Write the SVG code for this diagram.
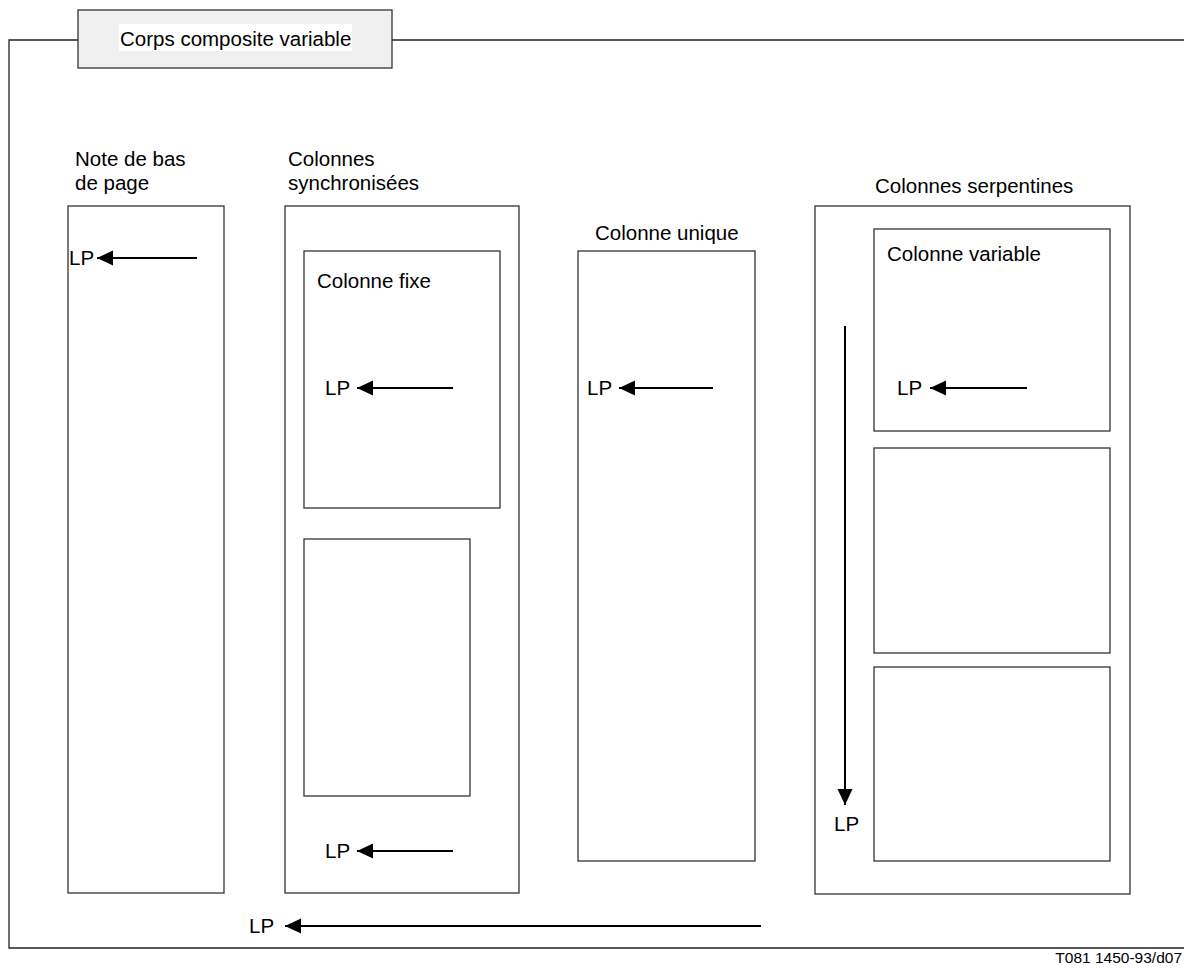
<svg xmlns="http://www.w3.org/2000/svg" width="1184" height="969" viewBox="0 0 1184 969">
  <style>
    .box { fill: #ffffff; stroke: #333333; stroke-width: 1.3; }
    .frame { fill: none; stroke: #222222; stroke-width: 1.3; }
    .title { fill: #f0f0f0; stroke: #333333; stroke-width: 1.3; }
    .lbl { font-family: "Liberation Sans", Arial, sans-serif; font-size: 20.5px; fill: #000000; }
    .small { font-family: "Liberation Sans", Arial, sans-serif; font-size: 15.5px; fill: #000000; }
    .arr { fill: none; stroke: #000000; stroke-width: 2; marker-end: url(#head); }
  </style>
  <defs>
    <marker id="head" markerUnits="userSpaceOnUse" markerWidth="17" markerHeight="17" viewBox="0 0 17 17" refX="16" refY="8.5" orient="auto">
      <path d="M0,1 L16,8.5 L0,16 Z" fill="#000000"/>
    </marker>
  </defs>

  <rect width="1184" height="969" fill="#ffffff"/>

  <!-- outer frame of the composite body -->
  <g id="frame">
    <path class="frame" d="M79,40 H9 V948 H1184"/>
    <path class="frame" d="M392,40 H1184"/>
  </g>

  <g id="title">
    <rect class="title" x="78" y="10" width="314" height="58"/>
    <rect x="119" y="24" width="233" height="27" fill="#ffffff"/>
    <text class="lbl" x="120" y="46">Corps composite variable</text>
  </g>

  <!-- footnote column -->
  <g id="note">
    <text class="lbl" x="75" y="166">Note de bas</text>
    <text class="lbl" x="75" y="190">de page</text>
    <rect class="box" x="68" y="206" width="156" height="687"/>
    <text class="lbl" x="69" y="265">LP</text>
  </g>

  <!-- synchronised columns -->
  <g id="sync">
    <text class="lbl" x="288" y="166">Colonnes</text>
    <text class="lbl" x="288" y="190">synchronisées</text>
    <rect class="box" x="285" y="206" width="234" height="687"/>
  </g>
  <g id="fixe">
    <rect class="box" x="304" y="251" width="196" height="257"/>
    <text class="lbl" x="317" y="288">Colonne fixe</text>
    <text class="lbl" x="325" y="395">LP</text>
  </g>
  <g id="sync2">
    <rect class="box" x="304" y="539" width="166" height="257"/>
  </g>
  <g id="sync-lp">
    <text class="lbl" x="325" y="858">LP</text>
  </g>

  <!-- single column -->
  <g id="unique">
    <text class="lbl" x="595" y="240">Colonne unique</text>
    <rect class="box" x="578" y="251" width="177" height="610"/>
    <text class="lbl" x="587" y="395">LP</text>
  </g>

  <!-- serpentine columns -->
  <g id="serp">
    <text class="lbl" x="875" y="193">Colonnes serpentines</text>
    <rect class="box" x="815" y="206" width="315" height="688"/>
    <text class="lbl" x="834" y="831">LP</text>
  </g>
  <g id="variable">
    <rect class="box" x="874" y="229" width="236" height="202"/>
    <text class="lbl" x="887" y="261">Colonne variable</text>
    <text class="lbl" x="897" y="395">LP</text>
  </g>
  <g id="serp2">
    <rect class="box" x="874" y="448" width="236" height="205"/>
  </g>
  <g id="serp3">
    <rect class="box" x="874" y="667" width="236" height="194"/>
  </g>

  <g id="bottom-lp">
    <text class="lbl" x="249" y="933">LP</text>
  </g>

  <!-- layout-path arrows -->
  <g id="connectors">
    <line class="arr" x1="197" y1="258" x2="97" y2="258"/>
    <line class="arr" x1="453" y1="388" x2="357" y2="388"/>
    <line class="arr" x1="453" y1="851" x2="357" y2="851"/>
    <line class="arr" x1="713" y1="388" x2="619" y2="388"/>
    <line class="arr" x1="1027" y1="388" x2="930" y2="388"/>
    <line class="arr" x1="845" y1="326" x2="845" y2="805"/>
    <line class="arr" x1="761" y1="926" x2="285" y2="926"/>
  </g>

  <text class="small" x="1182" y="963" text-anchor="end">T081 1450-93/d07</text>
</svg>
